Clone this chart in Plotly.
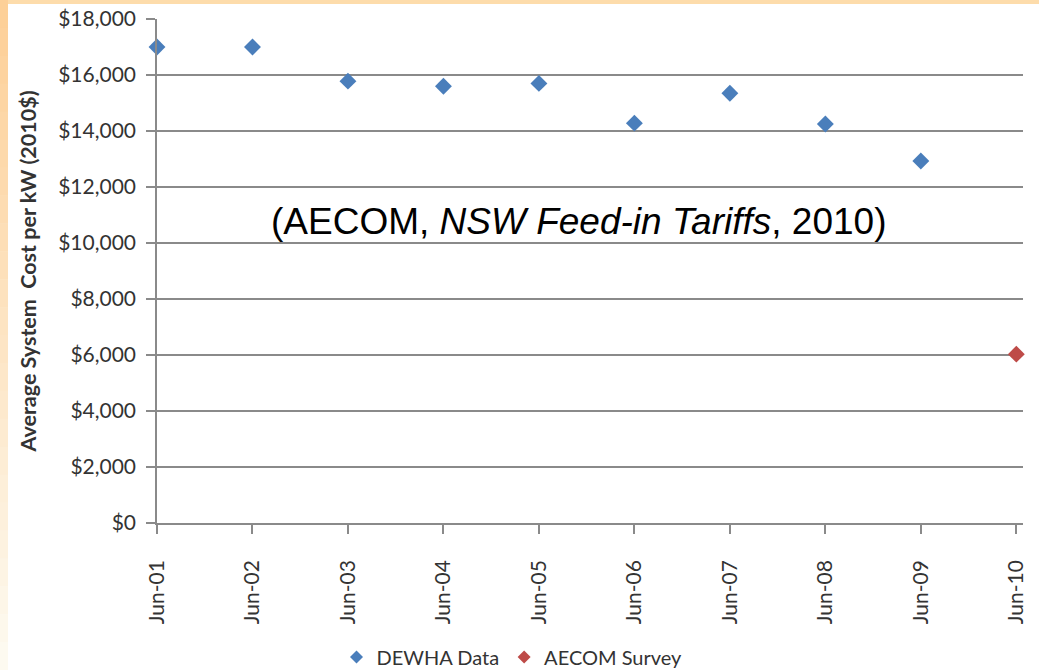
import plotly.graph_objects as go

# Average PV system cost per kW (2010 dollars)
periods = ["Jun-01", "Jun-02", "Jun-03", "Jun-04", "Jun-05",
           "Jun-06", "Jun-07", "Jun-08", "Jun-09", "Jun-10"]
dewha_periods = periods[:9]
dewha_cost = [17000, 17000, 15780, 15600, 15700, 14280, 15350, 14250, 12930]
aecom_periods = ["Jun-10"]
aecom_cost = [6030]

y_ticks = [0, 2000, 4000, 6000, 8000, 10000, 12000, 14000, 16000, 18000]
y_ticktext = ["$0", "$2,000", "$4,000", "$6,000", "$8,000", "$10,000",
              "$12,000", "$14,000", "$16,000", "$18,000"]

BLUE = "#4a7ebb"
RED = "#be4b48"
GRID = "#8a8a8a"
TEXT = "#333333"
FONT = "Lato, Open Sans, sans-serif"

W, H = 1039, 670
ML, MR, MT, MB = 157, 16, 19, 147
PW, PH = W - ML - MR, H - MT - MB


def px_x(p):
    return (p - ML) / PW


def px_y(p):
    return (H - MB - p) / PH


fig = go.Figure()

fig.add_trace(go.Scatter(
    x=dewha_periods, y=dewha_cost, mode="markers", name="DEWHA Data",
    marker=dict(symbol="diamond", size=13, color=BLUE),
    cliponaxis=False, showlegend=False,
))
fig.add_trace(go.Scatter(
    x=aecom_periods, y=aecom_cost, mode="markers", name="AECOM Survey",
    marker=dict(symbol="diamond", size=13, color=RED),
    cliponaxis=False, showlegend=False,
))
# legend entries with smaller symbols
fig.add_trace(go.Scatter(
    x=[None], y=[None], mode="markers", name="DEWHA Data",
    marker=dict(symbol="diamond", size=10, color=BLUE),
))
fig.add_trace(go.Scatter(
    x=[None], y=[None], mode="markers", name="AECOM Survey",
    marker=dict(symbol="diamond", size=10, color=RED),
))

# orange frame strips along the top and left edges of the page
shapes = []
shapes.append(dict(type="rect", xref="paper", yref="paper",
                   x0=px_x(0), x1=px_x(W), y0=px_y(4), y1=px_y(0),
                   fillcolor="#fddcab", line=dict(width=0), layer="below"))
n = 24
for i in range(n):
    t = i / (n - 1)
    r, g, b = 253, int(208 + (250 - 208) * t), int(152 + (240 - 152) * t)
    y0 = i * H / n
    shapes.append(dict(type="rect", xref="paper", yref="paper",
                       x0=px_x(0), x1=px_x(8),
                       y0=px_y(y0 + H / n + 0.5), y1=px_y(y0),
                       fillcolor=f"rgb({r},{g},{b})", line=dict(width=0),
                       layer="below"))

fig.update_layout(
    width=W, height=H,
    margin=dict(l=ML, r=MR, t=MT, b=MB, autoexpand=False),
    paper_bgcolor="white", plot_bgcolor="white",
    font=dict(family=FONT, color=TEXT),
    shapes=shapes,
    showlegend=True,
    legend=dict(orientation="h", x=px_x(512), y=px_y(657),
                xanchor="center", yanchor="middle",
                font=dict(family=FONT, size=20, color=TEXT),
                itemwidth=30, tracegroupgap=0),
    annotations=[dict(
        text="(AECOM, <i>NSW Feed-in Tariffs</i>, 2010)",
        xref="paper", yref="paper", x=px_x(578), y=px_y(221),
        xanchor="center", yanchor="middle", showarrow=False,
        font=dict(family="Liberation Sans, Arial, sans-serif", size=37,
                  color="black"),
    )],
)

fig.update_xaxes(
    type="category", categoryorder="array", categoryarray=periods,
    range=[0, 9.07], showgrid=False, zeroline=False, automargin=False,
    showline=True, linecolor=GRID, linewidth=1.5,
    ticks="outside", ticklen=9, tickcolor=GRID, tickwidth=1.5,
    tickangle=-90, ticklabelstandoff=18,
    tickfont=dict(family=FONT, size=21, color=TEXT),
)
fig.update_yaxes(
    range=[0, 18000], tickvals=y_ticks, ticktext=y_ticktext,
    showgrid=True, gridcolor=GRID, gridwidth=1.5, zeroline=False,
    automargin=False,
    showline=True, linecolor=GRID, linewidth=1.5,
    ticks="outside", ticklen=9, tickcolor=GRID, tickwidth=1.5,
    ticklabelstandoff=6,
    tickfont=dict(family=FONT, size=21, color=TEXT),
    title=dict(text="<b>Average System  Cost per kW (2010$)</b>",
               font=dict(family=FONT, size=21.5, color=TEXT), standoff=16),
)

fig.write_html("out.html")
